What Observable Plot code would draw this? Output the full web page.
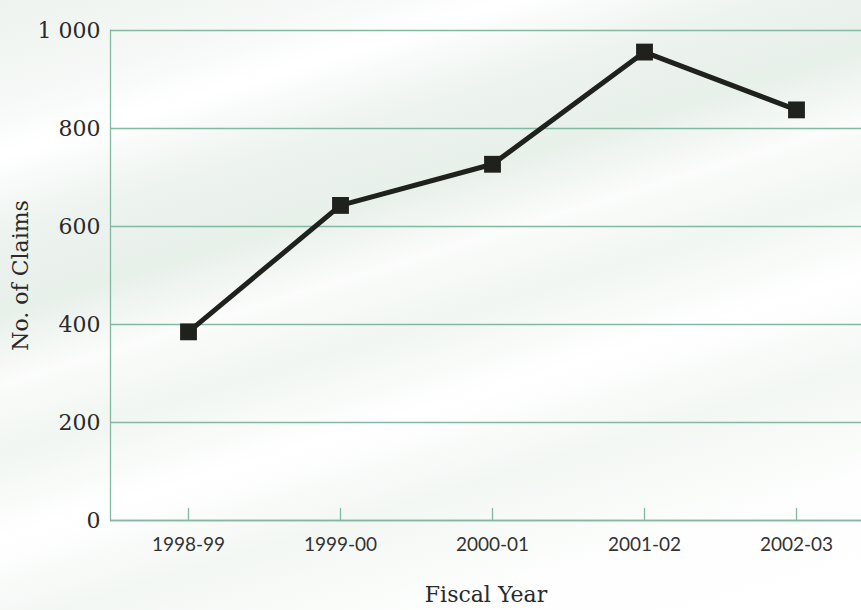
<!DOCTYPE html>
<html>
<head>
<meta charset="utf-8">
<script src="https://cdn.jsdelivr.net/npm/d3@7"></script>
<script src="https://cdn.jsdelivr.net/npm/@observablehq/plot@0.6"></script>
<style>
  html, body { margin: 0; padding: 0; overflow: hidden; }
  body {
    width: 861px; height: 610px;
    background:
      linear-gradient(163deg,
        #eef3ef 0%, #f6f9f7 12%, #ffffff 18%, #edf3ef 27%, #e8f0ea 36%,
        #fbfcfb 44%, #f1f6f2 52%, #ffffff 62%, #f3f7f4 72%, #fdfefd 85%, #ffffff 100%);
  }
  #chart svg { background: transparent; display: block; }
</style>
</head>
<body>
<div id="chart"></div>
<script>
const years = ["1998-99", "1999-00", "2000-01", "2001-02", "2002-03"];
const claims = [385, 643, 727, 956, 838];
const yTicks = [0, 200, 400, 600, 800, 1000];

const data = years.map((y, i) => ({year: y, claims: claims[i]}));
const green = "#83b8a3";
const fmt = d3.formatLocale({decimal: ".", thousands: " ", grouping: [3], currency: ["", ""]}).format(",");

const chart = Plot.plot({
  width: 861,
  height: 610,
  marginLeft: 110,
  marginRight: 0,
  marginTop: 30,
  marginBottom: 90,
  style: {background: "transparent", color: "#2a2a2a"},
  x: {type: "point", domain: years, range: [186, 797], padding: 0},
  y: {domain: [0, 1000]},
  marks: [
    Plot.gridY(yTicks, {stroke: green, strokeOpacity: 1, strokeWidth: 1.3}),
    Plot.ruleY([0], {stroke: green, strokeWidth: 1.3}),
    Plot.frame({anchor: "left", stroke: green, strokeWidth: 1.3}),
    Plot.axisY({ticks: yTicks, tickSize: 0, tickPadding: 10, tickFormat: fmt,
      fontSize: 22, fontFamily: "DejaVu Serif", label: null}),
    Plot.axisX({tickSize: -12, stroke: green, strokeWidth: 1.3, tickFormat: () => "", label: null}),
    Plot.axisX({tickSize: 0, tickPadding: 17, fontSize: 19, fontFamily: "Lato", fill: "#333", label: null}),
    Plot.text(["Fiscal Year"], {frameAnchor: "bottom", dy: 81, fontSize: 22, fontFamily: "DejaVu Serif", fill: "#2a2a2a"}),
    Plot.text(["No. of Claims"], {frameAnchor: "left", textAnchor: "middle", dx: -90, rotate: -90, fontSize: 22, fontFamily: "DejaVu Serif", fill: "#2a2a2a"}),
    Plot.line(data, {x: "year", y: "claims", stroke: "#1f211d", strokeWidth: 5}),
    Plot.dot(data, {x: "year", y: "claims", symbol: "square", r: 9.5, fill: "#1f211d", stroke: "none"})
  ]
});
document.getElementById("chart").appendChild(chart);
</script>
</body>
</html>
